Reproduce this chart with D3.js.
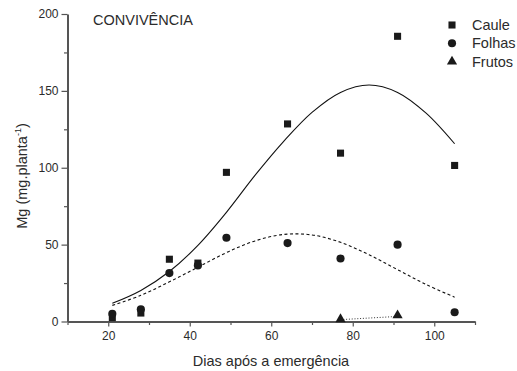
<!DOCTYPE html>
<html>
<head>
<meta charset="utf-8">
<script src="https://cdn.jsdelivr.net/npm/d3@7"></script>
<style>
body{margin:0;background:#fff;}
svg{display:block;}
text{font-family:"Liberation Sans",Arial,sans-serif;fill:#2b2b2b;}
</style>
</head>
<body>
<svg id="chart" width="517" height="371"></svg>
<script>
// Observed data (days after emergence)
const days = [21, 28, 35, 42, 49, 64, 77, 91, 105];
const caule = [2.5, 5.5, 40.5, 38, 97, 128.5, 109.5, 185.5, 101.5];
const folhas = [5, 8, 31.5, 36.5, 54.5, 51, 41, 50, 6];
const frutosDays = [77, 91];
const frutos = [1.5, 4];

// Fitted curves
const fitDays = [21, 28, 35, 42, 49, 56, 63, 70, 77, 84, 91, 98, 105];
const cauleFit = [11.8, 20.2, 32.5, 49.5, 71, 95, 117, 136, 149, 153.8, 149, 135.5, 115.6];
const folhasFit = [10.5, 17, 25.8, 35.3, 44.8, 52.4, 56.6, 56.3, 51.5, 43.4, 33.7, 24.1, 15.8];
const frutosFitDays = [77, 91];
const frutosFit = [1.2, 3.3];

const xTicks = [20, 40, 60, 80, 100];
const xMinor = [10, 30, 50, 70, 90, 110];
const yTicks = [0, 50, 100, 150, 200];
const yMinor = [25, 75, 125, 175];

const svg = d3.select("#chart");
const x = d3.scaleLinear().domain([10, 110]).range([67.5, 475]);
const y = d3.scaleLinear().domain([0, 200]).range([321.5, 14]);
const axisCol = "#555";

// minor ticks
svg.append("g").attr("transform", "translate(0,321.5)")
  .call(d3.axisBottom(x).tickValues(xMinor).tickSize(3.5).tickFormat(""))
  .call(g => { g.select(".domain").remove(); g.selectAll("line").attr("stroke", axisCol).attr("stroke-width", 1.2); });
svg.append("g").attr("transform", "translate(67.5,0)")
  .call(d3.axisLeft(y).tickValues(yMinor).tickSize(3.5).tickFormat(""))
  .call(g => { g.select(".domain").remove(); g.selectAll("line").attr("stroke", axisCol).attr("stroke-width", 1.2); });

// major axes
const xa = svg.append("g").attr("transform", "translate(0,321.5)")
  .call(d3.axisBottom(x).tickValues(xTicks).tickSize(5).tickSizeOuter(0).tickPadding(5).tickFormat(d3.format("d")));
const ya = svg.append("g").attr("transform", "translate(67.5,0)")
  .call(d3.axisLeft(y).tickValues(yTicks).tickSize(6).tickSizeOuter(0).tickPadding(3).tickFormat(d3.format("d")));
[xa, ya].forEach(a => {
  a.select(".domain").attr("stroke", axisCol).attr("stroke-width", 2);
  a.selectAll("line").attr("stroke", axisCol).attr("stroke-width", 1.2);
  a.selectAll("text").attr("font-size", 12).attr("fill", "#2b2b2b").attr("font-family", "Liberation Sans, Arial, sans-serif");
});

// curves
const line = d3.line().curve(d3.curveCatmullRom.alpha(0.5));
svg.append("path").attr("d", line(fitDays.map((d, i) => [x(d), y(cauleFit[i])])))
  .attr("fill", "none").attr("stroke", "#111").attr("stroke-width", 1.1);
svg.append("path").attr("d", line(fitDays.map((d, i) => [x(d), y(folhasFit[i])])))
  .attr("fill", "none").attr("stroke", "#111").attr("stroke-width", 1.1).attr("stroke-dasharray", "3,2.5");
svg.append("path").attr("d", d3.line()(frutosFitDays.map((d, i) => [x(d), y(frutosFit[i])])))
  .attr("fill", "none").attr("stroke", "#333").attr("stroke-width", 1).attr("stroke-dasharray", "1,1.8");

// markers
const sq = d3.symbol().type(d3.symbolSquare).size(50);
const ci = d3.symbol().type(d3.symbolCircle).size(52);
const tr = d3.symbol().type(d3.symbolTriangle).size(45);
const mk = "#1a1a1a";
svg.append("g").selectAll("path").data(days).join("path")
  .attr("d", sq).attr("fill", mk)
  .attr("transform", (d, i) => `translate(${x(d)},${y(caule[i])})`);
svg.append("g").selectAll("path").data(days).join("path")
  .attr("d", ci).attr("fill", mk)
  .attr("transform", (d, i) => `translate(${x(d)},${y(folhas[i])})`);
svg.append("g").selectAll("path").data(frutosDays).join("path")
  .attr("d", tr).attr("fill", mk)
  .attr("transform", (d, i) => `translate(${x(d)},${y(frutos[i])})`);

// title
svg.append("text").attr("x", 93).attr("y", 25).attr("font-size", 14.5).text("CONVIVÊNCIA");

// legend
const legNames = ["Caule", "Folhas", "Frutos"];
const legSyms = [sq, ci, tr];
legNames.forEach((n, i) => {
  const cy = 25 + i * 18.3;
  svg.append("path").attr("d", legSyms[i]).attr("fill", mk).attr("transform", `translate(452,${cy})`);
  svg.append("text").attr("x", 472).attr("y", cy + 5).attr("font-size", 14.5).text(n);
});

// axis labels
svg.append("text").attr("x", 271).attr("y", 366).attr("text-anchor", "middle").attr("font-size", 14.5)
  .text("Dias após a emergência");
const yl = svg.append("text").attr("transform", "translate(27,176) rotate(-90)").attr("text-anchor", "middle").attr("font-size", 14.5);
yl.append("tspan").text("Mg (mg.planta");
yl.append("tspan").attr("font-size", 9).attr("dy", -6).text("-1");
yl.append("tspan").attr("dy", 6).text(")");
</script>
</body>
</html>
